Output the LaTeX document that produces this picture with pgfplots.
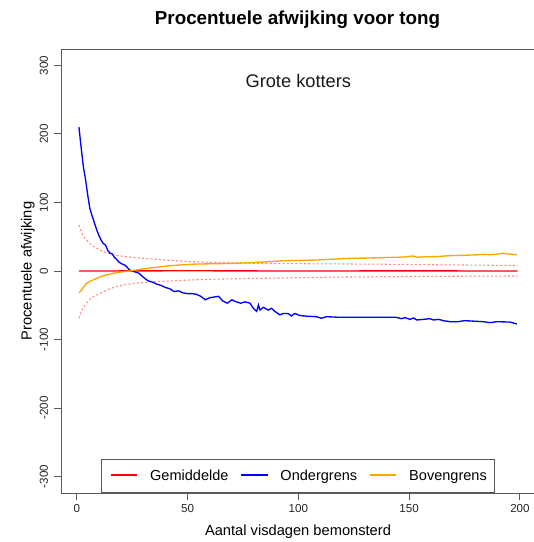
\documentclass[border=0pt]{standalone}
\usepackage{pgfplots}
\pgfplotsset{compat=1.18}
\usepackage{fontspec}
\setmainfont{Liberation Sans}
\definecolor{rblue}{HTML}{0000FF}
\definecolor{rred}{HTML}{FF0000}
\definecolor{rorange}{HTML}{FFA500}
\definecolor{rpink}{HTML}{FF8C8C}
\begin{document}
\begin{tikzpicture}
\begin{axis}[
  scale only axis,
  width=357.2pt, height=333pt,
  xmin=-6.96, xmax=207.96,
  ymin=-324, ymax=324,
  axis line style={draw=black!65, line width=0.7pt},
  xtick={0,50,100,150,200},
  xticklabels={0,50,100,150,200},
  ytick={-300,-200,-100,0,100,200,300},
  yticklabels={-300,-200,-100,0,100,200,300},
  xtick pos=left, ytick pos=left,
  tick align=outside,
  major tick length=5.25pt,
  tick style={draw=black!65, line width=0.7pt},
  tick label style={font=\fontsize{8.7}{10}\selectfont, text=black!85},
  xticklabel style={anchor=north, inner sep=0pt},
  yticklabel style={rotate=90, anchor=south, inner sep=0pt},
  xticklabel shift=2.9pt,
  yticklabel shift=4.6pt,
  clip=true,
  title={\bfseries Procentuele afwijking voor tong},
  every axis title/.style={at={(axis description cs:0.496,1)}, anchor=base, yshift=18pt, font=\fontsize{14.1}{16}\selectfont},
  xlabel={Aantal visdagen bemonsterd},
  ylabel={Procentuele afwijking},
  every axis x label/.style={at={(axis description cs:0.497,0)}, anchor=base, yshift=-31.9pt, font=\fontsize{11}{13}\selectfont},
  every axis y label/.style={at={(axis description cs:0,0.5)}, rotate=90, anchor=base, yshift=22.3pt, font=\fontsize{11}{13}\selectfont},
  legend columns=3,
  legend image code/.code={\draw[#1, line width=1pt] (0pt,0.75ex) -- (20pt,0.75ex);},
  legend style={at={(axis cs:100,-324)}, anchor=south, draw=black!65, line width=0.7pt, fill=white,
    font=\fontsize{10.9}{12}\selectfont, inner xsep=6pt, inner ysep=7.6pt,
    nodes={inner sep=0pt, anchor=base west},
    /tikz/every even column/.append style={column sep=8.8pt},
    /tikz/every odd column/.append style={column sep=9.2pt}},
]
% dotted bounds (light red)
\addplot[rpink, line width=0.8pt, dash pattern=on 1.6pt off 1.6pt, forget plot] coordinates {
(1,67) (2,58) (3,51) (4.5,45) (6,40) (7,37) (9,33) (11,30) (14,26) (17.5,23) (22,21) (26,19.5) (30,18.5) (36,17) (42,15.5) (52,13.6) (62,12.5) (72,11.8) (83,11) (95,10.8) (110,10.4) (122,10.2) (136,10) (150,9.4) (165,9) (180,8.6) (199,8)};
\addplot[rpink, line width=0.8pt, dash pattern=on 1.6pt off 1.6pt, forget plot] coordinates {
(1,-69) (2,-60) (3,-53) (4.5,-47) (6,-41) (7,-38) (9,-35) (11,-32) (14,-27) (17.5,-23) (22,-20) (26,-18) (30,-17) (36,-15.5) (42,-14.5) (52,-13) (62,-12) (72,-11.3) (83,-10.7) (95,-10) (110,-9.2) (122,-8.8) (136,-8.3) (150,-8) (165,-7.8) (180,-7.5) (199,-7.3)};
\addplot[rred, line width=1pt] coordinates {(1,0) (50,0.3) (100,0) (150,0.2) (199,0)};
\addlegendentry{Gemiddelde}
\addplot[rblue, line width=1pt] coordinates {
(1,210) (2,180) (3,152) (4,133) (5,110) (6,90) (7,80) (8,70) (9,60) (10,52) (11,45) (12,40) (13,38) (14,30) (15,26) (16,25) (17,20) (18,17) (19,13) (20,11) (22,8) (24,1) (26,-1) (28,-3) (30,-9) (32,-14) (34,-16) (36,-19) (38,-21) (40,-24) (42,-26) (44,-30) (46,-29) (48,-32) (50,-33) (52,-33) (54,-34) (56,-37) (58,-42) (60,-39) (62,-38) (64,-37) (66,-44) (68,-47) (70,-42) (72,-45) (74,-47) (76,-45) (78.2,-47) (79.7,-54.5) (81.2,-59) (82,-49.6) (82.7,-57) (84.2,-53) (86.4,-57) (87.9,-54.5) (89.4,-59) (91.7,-64) (93.2,-62) (95.4,-62) (96.9,-65.7) (98.4,-62) (100.7,-65) (104,-66) (108.2,-66.7) (110.4,-69) (112.7,-66.7) (118.7,-67.6) (130,-67.6) (144,-67.6) (146.7,-69.6) (148,-68) (150.4,-70.6) (152,-68.5) (153.4,-71.5) (156.4,-70.6) (159.4,-69.6) (161,-71.5) (163.4,-70.6) (165.4,-72.5) (168.5,-74) (172,-74) (175,-72.5) (178,-73) (183.5,-74) (186.5,-75.4) (189.5,-74) (195.5,-74.5) (198.6,-77.4)};
\addlegendentry{Ondergrens}
\addplot[rorange, line width=1pt] coordinates {
(1,-32) (2.2,-27.7) (3.2,-23) (4.5,-18) (6,-15) (7.5,-13) (9.5,-10) (12,-6.8) (15,-4.5) (18,-2.4) (21,-1) (24,0) (27.5,1.8) (31.6,3.9) (34.5,5) (37.6,6) (41,7.2) (45,8.3) (49,9.3) (52.6,10) (60,10.5) (67.7,11) (75,11.6) (78.2,12.1) (85,13.2) (93.2,15) (100,15.4) (108.2,16) (115,17.2) (123.3,18.5) (130,18.8) (137,19.4) (144.3,20) (148,20.5) (151.9,21.9) (153.4,20) (157,20.8) (162.4,21) (168.5,22.4) (175,23) (180,23.5) (183.5,24.3) (186.5,23.8) (189.5,24.5) (192.5,25.8) (195.5,24.6) (198.6,23.8)};
\addlegendentry{Bovengrens}
\node[anchor=base, font=\fontsize{13.7}{15}\selectfont, text=black!90] at (axis cs:100,268.2) {Grote kotters};
\end{axis}
\pgfresetboundingbox
\useasboundingbox (-45.98pt,-36.75pt) rectangle (354.52pt,369.75pt);
\end{tikzpicture}
\end{document}
